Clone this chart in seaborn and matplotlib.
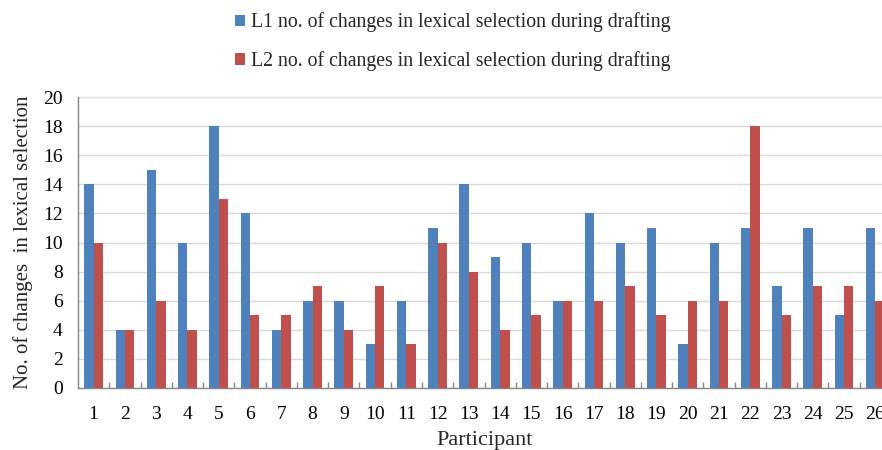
import matplotlib
matplotlib.use("Agg")
import matplotlib.pyplot as plt
from matplotlib.patches import Patch
from matplotlib.ticker import NullFormatter, FixedLocator
import seaborn as sns
import pandas as pd

participants = [str(i) for i in range(1, 27)]
l1_changes = [14, 4, 15, 10, 18, 12, 4, 6, 6, 3, 6, 11, 14, 9, 10, 6, 12, 10, 11, 3, 10, 11, 7, 11, 5, 11]
l2_changes = [10, 4, 6, 4, 13, 5, 5, 7, 4, 7, 3, 10, 8, 4, 5, 6, 6, 7, 5, 6, 6, 18, 5, 7, 7, 6]
series_names = [
    "L1 no. of changes in lexical selection during drafting",
    "L2 no. of changes in lexical selection during drafting",
]
colors = ["#4F81BD", "#C0504D"]

df = pd.DataFrame({
    "Participant": participants * 2,
    "Changes": l1_changes + l2_changes,
    "Series": [series_names[0]] * len(participants) + [series_names[1]] * len(participants),
})

sns.set_theme(style="white")
plt.rcParams["font.family"] = ["Liberation Serif", "DejaVu Serif"]

fig = plt.figure(figsize=(8.82, 4.5), dpi=100)
ax = fig.add_axes([78 / 882, 1 - 388 / 450, (891 - 78) / 882, (388 - 97) / 450])

sns.barplot(data=df, x="Participant", y="Changes", hue="Series", order=participants,
            hue_order=series_names, palette=colors, width=0.6, saturation=1,
            edgecolor="none", linewidth=0, ax=ax, legend=False, zorder=3)

ax.set_xlim(-0.5, len(participants) - 0.5)
ax.set_ylim(0, 20)
ax.set_yticks(range(0, 21, 2))
ax.yaxis.grid(True, color="#D9D9D9", linewidth=1, zorder=0)
ax.set_axisbelow(True)

for side in ["top", "right"]:
    ax.spines[side].set_visible(False)
for side in ["left", "bottom"]:
    ax.spines[side].set_color("#868686")
    ax.spines[side].set_linewidth(1)

ax.tick_params(axis="y", which="major", left=True, length=0, labelsize=14, pad=11,
               labelcolor="black")
ax.tick_params(axis="x", which="major", bottom=True, length=0, labelsize=14, pad=13,
               labelcolor="black")
# category separators on the baseline
ax.xaxis.set_minor_locator(FixedLocator([i + 0.5 for i in range(len(participants) - 1)]))
ax.xaxis.set_minor_formatter(NullFormatter())
ax.tick_params(axis="x", which="minor", bottom=True, direction="in", length=4,
               width=1, color="#868686")

ax.set_xlabel("Participant", fontsize=16, labelpad=6)
ax.set_ylabel("No. of changes  in lexical selection", fontsize=15, labelpad=7)

handles = [Patch(facecolor=c, edgecolor="none") for c in colors]
fig.legend(handles, series_names, loc="upper center", bbox_to_anchor=(0.513, 1.012),
           ncol=1, frameon=False, fontsize=14.2, handlelength=0.5, handleheight=0.5,
           handletextpad=0.3, labelspacing=0.95)

fig.savefig("out.png", dpi=100)
